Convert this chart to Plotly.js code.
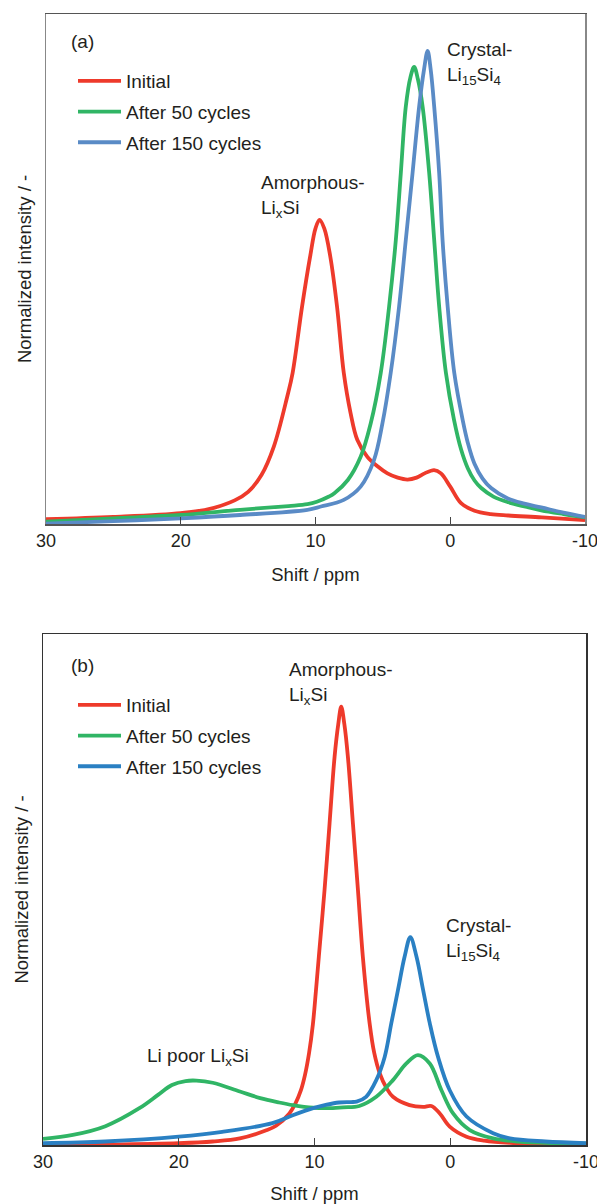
<!DOCTYPE html>
<html>
<head>
<meta charset="utf-8">
<script src="https://cdn.plot.ly/plotly-3.0.1.min.js"></script>
<style>html,body{margin:0;padding:0;background:#fff;}#chart{width:597px;height:1204px;}</style>
</head>
<body>
<div id="chart"></div>
<script>
// ---------- Tick labels ----------
const tickVals = [30, 20, 10, 0, -10];
const tickText = ['30', '20', '10', '0', '-10'];
const seriesNames = ['Initial', 'After 50 cycles', 'After 150 cycles'];

// ---------- Panel (a) ----------
const aInitialX = [30, 25, 20, 18, 16, 15, 14, 13.1, 12.1, 11.7, 11.0, 10.4, 10.0, 9.7, 9.35, 8.9, 8.4, 7.9, 7.4, 6.9, 6.15, 5.4, 4.66, 3.9, 3.17, 2.5, 1.9, 1.2, 0.69, 0.0, -0.8, -1.8, -3.0, -4.3, -6.8, -10];
const aInitialY = [0.010, 0.015, 0.023, 0.031, 0.050, 0.068, 0.104, 0.163, 0.269, 0.319, 0.459, 0.565, 0.625, 0.643, 0.625, 0.565, 0.459, 0.319, 0.235, 0.178, 0.142, 0.122, 0.107, 0.098, 0.094, 0.098, 0.107, 0.114, 0.107, 0.079, 0.044, 0.028, 0.021, 0.018, 0.014, 0.008];

const a50X = [30, 25, 20, 15.6, 12, 10.6, 9.9, 9.0, 8.6, 7.6, 6.65, 5.9, 5.16, 4.54, 4.04, 3.67, 3.3, 2.95, 2.68, 2.4, 2.05, 1.56, 1.19, 0.82, 0.32, -0.28, -0.8, -1.3, -1.8, -2.3, -3.2, -4.3, -5.5, -6.75, -8.4, -10];
const a50Y = [0.005, 0.012, 0.019, 0.030, 0.038, 0.042, 0.047, 0.058, 0.065, 0.093, 0.142, 0.213, 0.319, 0.459, 0.600, 0.741, 0.882, 0.945, 0.966, 0.940, 0.882, 0.741, 0.600, 0.459, 0.319, 0.220, 0.158, 0.118, 0.092, 0.076, 0.058, 0.046, 0.037, 0.029, 0.021, 0.014];

const a150X = [30, 25, 20, 15.6, 10.6, 9.6, 7.9, 6.65, 5.66, 5.03, 4.42, 3.8, 3.3, 2.8, 2.31, 1.95, 1.68, 1.45, 1.19, 0.82, 0.57, 0.19, -0.3, -0.92, -1.3, -1.79, -2.4, -3.03, -4.27, -5.5, -6.75, -8.4, -10];
const a150Y = [0.001, 0.006, 0.012, 0.019, 0.030, 0.037, 0.051, 0.079, 0.135, 0.213, 0.319, 0.459, 0.600, 0.741, 0.882, 0.960, 1.000, 0.960, 0.882, 0.741, 0.600, 0.459, 0.319, 0.220, 0.172, 0.128, 0.096, 0.076, 0.054, 0.043, 0.035, 0.024, 0.015];

// ---------- Panel (b) ----------
const bInitialX = [30, 25, 20, 17.5, 15.5, 13.6, 12.83, 11.85, 11.4, 11.0, 10.7, 10.4, 10.12, 9.9, 9.68, 9.26, 8.89, 8.52, 8.25, 8.03, 7.8, 7.54, 7.17, 6.8, 6.44, 5.94, 5.6, 5.2, 4.7, 4.22, 3.0, 2.0, 1.39, 0.77, 0.04, -1.2, -2.5, -4.4, -10];
const bInitialY = [0.0, 0.001, 0.004, 0.008, 0.015, 0.033, 0.044, 0.072, 0.095, 0.125, 0.160, 0.210, 0.275, 0.350, 0.430, 0.582, 0.734, 0.886, 0.960, 1.000, 0.960, 0.886, 0.734, 0.582, 0.430, 0.278, 0.210, 0.164, 0.130, 0.110, 0.091, 0.087, 0.089, 0.072, 0.042, 0.019, 0.010, 0.005, 0.002];

const b50X = [30, 27.8, 25.4, 22.9, 21.5, 20.5, 19.5, 18.7, 17.5, 15.5, 14, 12.6, 11.6, 10.1, 9.0, 7.9, 6.7, 5.45, 4.22, 3.23, 2.38, 1.51, 0.65, -0.21, -1.44, -3.16, -5, -10];
const b50Y = [0.014, 0.023, 0.043, 0.084, 0.115, 0.137, 0.146, 0.147, 0.142, 0.122, 0.107, 0.097, 0.091, 0.085, 0.084, 0.086, 0.089, 0.110, 0.148, 0.186, 0.205, 0.186, 0.125, 0.072, 0.034, 0.015, 0.008, 0.003];

const b150X = [30, 25.4, 20, 16.8, 13.1, 11.6, 10.1, 9.1, 8.2, 7.3, 6.9, 6.2, 5.45, 4.83, 4.34, 3.85, 3.36, 2.94, 2.49, 2.0, 1.51, 0.9, 0.04, -1.2, -3.16, -4.4, -7, -10];
const b150Y = [0.004, 0.008, 0.019, 0.030, 0.050, 0.068, 0.084, 0.092, 0.097, 0.098, 0.099, 0.110, 0.148, 0.201, 0.278, 0.354, 0.430, 0.474, 0.430, 0.354, 0.278, 0.201, 0.125, 0.065, 0.027, 0.015, 0.008, 0.004];

// ---------- Styles ----------
const FONT = 'Liberation Sans, Arial, Helvetica, sans-serif';
const TXT = '#231f20';
const RED = '#ee3a2b';
const GREEN = '#30b565';
const BLUE_A = '#5a8bc6';
const BLUE_B = '#2a80c3';
const LW = 3.8;

function tr(x, y, name, color, xa, ya, leg, grp) {
  return {x: x, y: y, name: name, type: 'scatter', mode: 'lines',
    line: {color: color, width: LW, shape: 'spline', smoothing: 1.0},
    xaxis: xa, yaxis: ya, legend: leg, legendgroup: grp, hoverinfo: 'skip'};
}

const data = [
  tr(aInitialX, aInitialY, seriesNames[0], RED, 'x', 'y', 'legend', 'a0'),
  tr(a50X, a50Y, seriesNames[1], GREEN, 'x', 'y', 'legend', 'a1'),
  tr(a150X, a150Y, seriesNames[2], BLUE_A, 'x', 'y', 'legend', 'a2'),
  tr(bInitialX, bInitialY, seriesNames[0], RED, 'x2', 'y2', 'legend2', 'b0'),
  tr(b50X, b50Y, seriesNames[1], GREEN, 'x2', 'y2', 'legend2', 'b1'),
  tr(b150X, b150Y, seriesNames[2], BLUE_B, 'x2', 'y2', 'legend2', 'b2')
];

const W = 597, H = 1204;
function xaxisDef(l, r, lineColor, anchor) {
  return {domain: [l / W, r / W], range: [30, -10], anchor: anchor,
    tickmode: 'array', tickvals: tickVals, ticktext: tickText,
    ticks: 'inside', ticklen: 7, tickwidth: 1, tickcolor: '#444',
    ticklabeloverflow: 'allow',
    showline: true, linecolor: lineColor, linewidth: 1.5, mirror: true,
    showgrid: false, zeroline: false,
    tickfont: {family: FONT, size: 18, color: TXT},
    title: {text: 'Shift / ppm', font: {family: FONT, size: 18.5, color: TXT}, standoff: 18}};
}
function yaxisDef(top, bottom, maxV, lineColor, anchor) {
  return {domain: [1 - bottom / H, 1 - top / H], range: [0, maxV], anchor: anchor,
    showticklabels: false, ticks: '', showline: true, linecolor: lineColor, linewidth: 1.5, mirror: true,
    showgrid: false, zeroline: false,
    title: {text: 'Normalized intensity / -', font: {family: FONT, size: 18.5, color: TXT}, standoff: 8}};
}
const legendDef = (x, y) => ({x: x / W, y: 1 - y / H, xanchor: 'left', yanchor: 'top',
  bgcolor: 'rgba(0,0,0,0)', borderwidth: 0, font: {family: FONT, size: 19, color: TXT},
  tracegroupgap: 3, itemwidth: 43, traceorder: 'grouped'});

const annFont = {family: FONT, size: 19, color: TXT};
function ann(text, x, y, xr, yr) {
  return {text: text, x: x, y: y, xref: xr, yref: yr, xanchor: 'left', yanchor: 'middle',
    showarrow: false, align: 'left', font: annFont};
}

const layout = {
  width: W, height: H,
  margin: {l: 0, r: 0, t: 0, b: 0},
  paper_bgcolor: '#fff', plot_bgcolor: '#fff',
  font: {family: FONT, size: 18, color: TXT},
  xaxis: xaxisDef(46, 585, '#555', 'y'),
  yaxis: yaxisDef(14, 524, 1.078, '#888', 'x'),
  xaxis2: xaxisDef(43, 586, '#333', 'y2'),
  yaxis2: yaxisDef(634, 1145, 1.166, '#333', 'x2'),
  legend: legendDef(73, 62),
  legend2: legendDef(73, 686),
  annotations: [
    ann('(a)', 28.3, 1.019, 'x', 'y'),
    ann('Amorphous-<br>Li<sub>x</sub>Si', 14.22, 0.692, 'x', 'y'),
    ann('Crystal-<br>Li<sub>15</sub>Si<sub>4</sub>', 0.42, 0.974, 'x', 'y'),
    ann('(b)', 28.1, 1.095, 'x2', 'y2'),
    ann('Amorphous-<br>Li<sub>x</sub>Si', 12.05, 1.052, 'x2', 'y2'),
    ann('Crystal-<br>Li<sub>15</sub>Si<sub>4</sub>', 0.47, 0.468, 'x2', 'y2'),
    ann('Li poor Li<sub>x</sub>Si', 22.45, 0.200, 'x2', 'y2')
  ],
  showlegend: true
};

Plotly.newPlot('chart', data, layout, {staticPlot: true, displayModeBar: false});
</script>
</body>
</html>
